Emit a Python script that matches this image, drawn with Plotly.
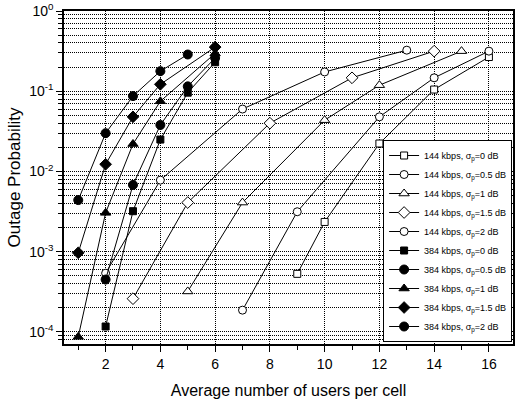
import plotly.graph_objects as go

# ---- data ----
x_144_s0 = [9, 10, 12, 14, 16]
y_144_s0 = [5.3e-4, 2.35e-3, 0.0223, 0.105, 0.267]
x_144_s05 = [7, 9, 12, 14, 16]
y_144_s05 = [1.87e-4, 3.15e-3, 0.048, 0.147, 0.316]
x_144_s1 = [5, 7, 10, 12, 15]
y_144_s1 = [3.2e-4, 4.1e-3, 0.0436, 0.119, 0.316]
x_144_s15 = [3, 5, 8, 11, 14]
y_144_s15 = [2.6e-4, 4.1e-3, 0.040, 0.147, 0.316]
x_144_s2 = [2, 4, 7, 10, 13]
y_144_s2 = [5.4e-4, 7.8e-3, 0.060, 0.174, 0.325]

x_384_s0 = [2, 3, 4, 5, 6]
y_384_s0 = [1.17e-4, 3.2e-3, 0.025, 0.096, 0.23]
x_384_s05 = [2, 3, 4, 5, 6]
y_384_s05 = [4.5e-4, 6.8e-3, 0.038, 0.115, 0.26]
x_384_s1 = [1, 2, 3, 4, 6]
y_384_s1 = [8.7e-5, 3.05e-3, 0.022, 0.075, 0.296]
x_384_s15 = [1, 2, 3, 4, 6]
y_384_s15 = [9.7e-4, 0.0123, 0.048, 0.122, 0.355]
x_384_s2 = [1, 2, 3, 4, 5]
y_384_s2 = [4.4e-3, 0.030, 0.087, 0.178, 0.287]

names = [
    "144 kbps, σ<sub>p</sub>=0 dB",
    "144 kbps, σ<sub>p</sub>=0.5 dB",
    "144 kbps, σ<sub>p</sub>=1 dB",
    "144 kbps, σ<sub>p</sub>=1.5 dB",
    "144 kbps, σ<sub>p</sub>=2 dB",
    "384 kbps, σ<sub>p</sub>=0 dB",
    "384 kbps, σ<sub>p</sub>=0.5 dB",
    "384 kbps, σ<sub>p</sub>=1 dB",
    "384 kbps, σ<sub>p</sub>=1.5 dB",
    "384 kbps, σ<sub>p</sub>=2 dB",
]
xs = [x_144_s0, x_144_s05, x_144_s1, x_144_s15, x_144_s2,
      x_384_s0, x_384_s05, x_384_s1, x_384_s15, x_384_s2]
ys = [y_144_s0, y_144_s05, y_144_s1, y_144_s15, y_144_s2,
      y_384_s0, y_384_s05, y_384_s1, y_384_s15, y_384_s2]
symbols = ["square", "circle", "triangle-up", "diamond", "circle",
           "square", "circle", "triangle-up", "diamond", "circle"]
fills = ["white"] * 5 + ["black"] * 5
sizes = [7, 8, 9, 9, 8, 7, 9, 9, 9, 9]

y_tickvals = [1e-4, 1e-3, 1e-2, 1e-1, 1]
y_ticktext = ["10<sup>-4</sup>", "10<sup>-3</sup>", "10<sup>-2</sup>", "10<sup>-1</sup>", "10<sup>0</sup>"]
y_minorvals = [k * 10.0 ** e for e in range(-5, 0) for k in range(2, 10)]
x_tickvals = [2, 4, 6, 8, 10, 12, 14, 16]
x_minorvals = [1, 3, 5, 7, 9, 11, 13, 15]

fig = go.Figure()
for i in range(10):
    fig.add_trace(go.Scatter(
        x=xs[i], y=ys[i], name=names[i], mode="lines+markers",
        line=dict(color="black", width=1),
        marker=dict(symbol=symbols[i], size=sizes[i], color=fills[i],
                    line=dict(color="black", width=1)),
    ))

font_family = "Arial, Liberation Sans, sans-serif"
fig.update_layout(
    width=516, height=399,
    margin=dict(l=64, r=1, t=10, b=55),
    plot_bgcolor="white", paper_bgcolor="white",
    font=dict(family=font_family, color="black"),
    legend=dict(
        x=0.998, y=0.006, xanchor="right", yanchor="bottom",
        bgcolor="white", bordercolor="black", borderwidth=1,
        font=dict(size=9, family=font_family), tracegroupgap=0,
    ),
    xaxis=dict(
        range=[0.48, 16.88], tickvals=x_tickvals,
        showline=True, linecolor="black", linewidth=1.5, mirror=True,
        ticks="outside", ticklen=6, tickcolor="black",
        tickfont=dict(size=14),
        showgrid=True, gridcolor="black", gridwidth=1, griddash="1px,1px",
        zeroline=False,
        minor=dict(tickvals=x_minorvals, ticks="outside", ticklen=4, tickcolor="black", showgrid=False),
        title=dict(text="Average number of users per cell", font=dict(size=16), standoff=14),
    ),
    yaxis=dict(
        type="log", range=[-4.15, 0.0], tickvals=y_tickvals, ticktext=y_ticktext,
        showline=True, linecolor="black", linewidth=1.5, mirror=True,
        ticks="outside", ticklen=6, tickcolor="black",
        tickfont=dict(size=14),
        showgrid=True, gridcolor="black", gridwidth=1, griddash="1px,1px",
        zeroline=False,
        minor=dict(tickvals=y_minorvals, ticks="outside", ticklen=4, tickcolor="black",
                   showgrid=True, gridcolor="black", gridwidth=1, griddash="1px,1px"),
        title=dict(text="Outage Probability", font=dict(size=17), standoff=4),
    ),
)

fig.write_html("out.html")
